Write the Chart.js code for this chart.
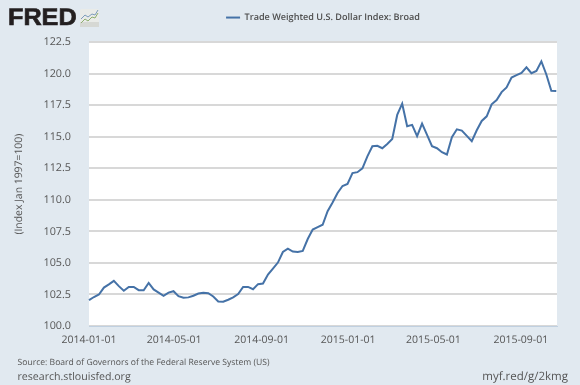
<!DOCTYPE html>
<html><head><meta charset="utf-8">
<style>
html,body{margin:0;padding:0;background:#e1e9f0;}
#wrap{position:relative;width:580px;height:385px;overflow:hidden;font-family:"Open Sans",sans-serif;text-rendering:geometricPrecision;}
canvas{position:absolute;left:0;top:0;}
.t{position:absolute;white-space:nowrap;color:#555;line-height:14px;}
#logo{position:absolute;left:8px;top:6px;font:bold 24px/24px "Liberation Sans",sans-serif;color:#231f20;-webkit-text-stroke:0.7px #231f20;transform:scaleX(1.05);transform-origin:left top;}
svg{position:absolute;left:80px;top:9px;}
</style></head><body>
<div id="wrap">
<canvas id="c" width="580" height="385"></canvas>
<div id="logo">FRED</div>
<svg width="19" height="18" viewBox="0 0 19 18"><rect width="19" height="18" rx="1.5" fill="#e9ebe8"/><rect y="13" width="19" height="5" fill="#d6d8d4"/><polyline points="1,10 5,6 8,8 12,5 15,6 18,1" fill="none" stroke="#7d9cbc" stroke-width="1"/><polyline points="1,14 5,10 8,12 12,8 15,9 18,4" fill="none" stroke="#8eae6f" stroke-width="1"/></svg>
<div class="t" style="left:17.5px;top:355px;font-size:8.6px;">Source: Board of Governors of the Federal Reserve System (US)</div>
<div class="t" style="left:17.5px;top:370px;font-size:10.6px;">research.stlouisfed.org</div>
<div class="t" style="right:12px;top:370px;font-size:11.5px;">myf.red/g/2kmg</div>
</div>
<script src="https://cdn.jsdelivr.net/npm/chart.js@4/dist/chart.umd.min.js"></script>
<script>
const seriesName = "Trade Weighted U.S. Dollar Index: Broad";
const yAxisTitle = "(Index Jan 1997=100)";
const startDate = "2014-01-01";
const stepDays = 7;
const xTickLabels = ["2014-01-01","2014-05-01","2014-09-01","2015-01-01","2015-05-01","2015-09-01"];
const yTicks = [100,102.5,105,107.5,110,112.5,115,117.5,120,122.5];
const values = [
102.05,102.3,102.5,103.05,103.3,103.58,103.16,102.8,103.1,103.1,
102.84,102.84,103.42,102.9,102.65,102.4,102.65,102.76,102.37,102.24,
102.27,102.4,102.58,102.63,102.6,102.34,101.95,101.92,102.08,102.27,
102.53,103.1,103.1,102.92,103.32,103.37,104.08,104.55,105.03,105.87,
106.13,105.9,105.87,105.95,106.9,107.65,107.84,108.03,109.1,109.8,
110.55,111.1,111.26,112.13,112.2,112.5,113.45,114.26,114.29,114.1,
114.44,114.84,116.74,117.63,115.84,115.95,115.05,116.05,115.16,114.26,
114.1,113.78,113.6,114.97,115.6,115.5,115.08,114.65,115.52,116.26,
116.63,117.58,117.92,118.55,118.92,119.7,119.89,120.07,120.52,120.05,
120.23,120.99,119.95,118.65,118.63];

const dayMs = 86400000;
const t0 = Date.parse(startDate + "T00:00:00Z");
const toDay = s => (Date.parse(s + "T00:00:00Z") - t0) / dayMs;
const labelOf = d => new Date(t0 + d * dayMs).toISOString().slice(0,10);
const points = values.map((v,i) => ({x:i*stepDays, y:v}));
const textColor = "#555";
const fontFamily = "'Open Sans',sans-serif";

new Chart(document.getElementById("c"), {
  type:"line",
  data:{datasets:[{label:seriesName,data:points,borderColor:"#4572a7",backgroundColor:"#4572a7",borderWidth:2,pointRadius:0,tension:0,clip:false}]},
  options:{
    responsive:false,animation:false,
    layout:{padding:{top:5,right:23,bottom:0,left:13}},
    plugins:{
      tooltip:{enabled:false},
      title:{display:true,text:" ",fullSize:false,weight:500,font:{size:1},padding:{top:0,bottom:9}},
      legend:{display:true,position:"top",fullSize:false,weight:3000,
        labels:{usePointStyle:true,pointStyle:"line",pointStyleWidth:14,boxHeight:2,color:"#4d4d4d",padding:8,
          font:{family:fontFamily,size:9.1,weight:"600"}}}
    },
    scales:{
      x:{type:"linear",min:0,max:659,
        afterBuildTicks(a){a.ticks = xTickLabels.map(s => ({value:toDay(s)}));},
        afterFit(a){a.height = 59;},
        grid:{display:false,drawTicks:true,tickLength:8,tickColor:"#c0d0e0"},
        border:{display:true,color:"#c0d0e0",width:1},
        ticks:{autoSkip:false,maxRotation:0,minRotation:0,color:textColor,padding:0,
          font:{family:fontFamily,size:10.5},
          callback:v => labelOf(v)}},
      y:{type:"linear",min:100,max:122.5,
        afterBuildTicks(a){a.ticks = yTicks.map(v => ({value:v}));},
        afterFit(a){a.width = 76;},
        grid:{color:"#d8d8d8",lineWidth:2,drawTicks:false},
        border:{display:false},
        title:{display:true,text:yAxisTitle,color:textColor,padding:{top:0,bottom:0},
          font:{family:fontFamily,size:10.4}},
        ticks:{color:textColor,padding:18,
          font:{family:fontFamily,size:10.8},
          callback:v => v.toFixed(1)}}
    }
  },
  plugins:[{id:"plotBg",
    beforeInit(ch){ch.ctx.textRendering="geometricPrecision";},
    beforeLayout(ch){ch.ctx.textRendering="geometricPrecision";},
    beforeDraw(ch){const a=ch.chartArea,x=ch.ctx;x.textRendering="geometricPrecision";x.save();x.fillStyle="#fff";x.fillRect(a.left,a.top,a.right-a.left,a.bottom-a.top);x.restore();}}]
});
</script>
</body></html>
